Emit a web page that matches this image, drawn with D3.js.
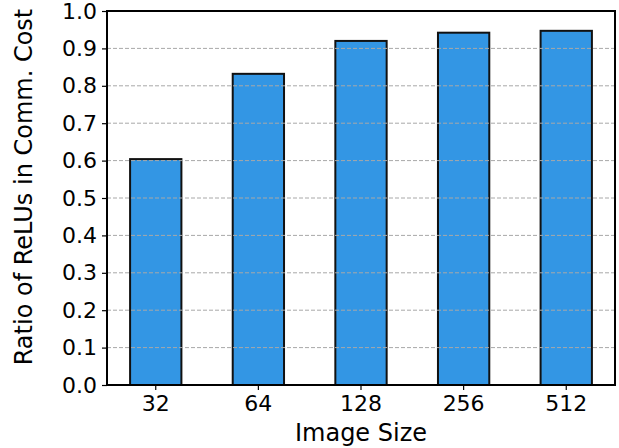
<!DOCTYPE html>
<meta charset="utf-8">
<style>
body { margin: 0; background: #fff; }
svg { font-family: "DejaVu Sans", sans-serif; }
.axis .domain { display: none; }
.axis .tick line { stroke: #000; stroke-width: 1.2px; }
.grid line { stroke: #a8a8a8; stroke-width: 1px; stroke-dasharray: 4,2; }
.bar { fill: #3396e4; stroke: #111; stroke-width: 2px; }
.label { font-size: 24px; fill: #000; }
</style>
<body>
<script src="https://cdn.jsdelivr.net/npm/d3@7"></script>
<script>

var sizes = ["32", "64", "128", "256", "512"];
var ratios = [0.604, 0.832, 0.920, 0.942, 0.947];
var yTicks = [0, 0.1, 0.2, 0.3, 0.4, 0.5, 0.6, 0.7, 0.8, 0.9, 1.0];

var margin = {top: 11, right: 4, bottom: 63, left: 107},
    width = 619 - margin.left - margin.right,
    height = 448 - margin.top - margin.bottom;

var svg = d3.select("body").append("svg")
    .attr("width", 619)
    .attr("height", 448)
  .append("g")
    .attr("transform", "translate(" + margin.left + "," + margin.top + ")");

var x = d3.scaleBand()
    .domain(sizes)
    .range([0, width])
    .paddingInner(0.5)
    .paddingOuter(0.225);

var y = d3.scaleLinear()
    .domain([0, 1])
    .range([height, 0]);

svg.selectAll(".bar")
    .data(ratios)
  .enter().append("rect")
    .attr("class", "bar")
    .attr("x", function(d, i) { return x(sizes[i]); })
    .attr("width", x.bandwidth())
    .attr("y", function(d) { return y(d); })
    .attr("height", function(d) { return height - y(d); });

// grid sits on top of the bars, like the original
svg.append("g")
    .attr("class", "grid")
  .selectAll("line")
    .data(yTicks.slice(1, -1))
  .enter().append("line")
    .attr("x1", 0)
    .attr("x2", width)
    .attr("y1", function(d) { return y(d); })
    .attr("y2", function(d) { return y(d); });

var xAxis = svg.append("g")
    .attr("class", "axis")
    .attr("transform", "translate(0," + height + ")")
    .call(d3.axisBottom(x).tickSize(5).tickPadding(5));

var yAxis = svg.append("g")
    .attr("class", "axis")
    .call(d3.axisLeft(y).tickValues(yTicks).tickFormat(d3.format(".1f")).tickSize(5).tickPadding(5));

[xAxis, yAxis].forEach(function(g) {
  g.attr("font-size", 22).attr("font-family", "DejaVu Sans, sans-serif");
  g.selectAll("text").style("fill", "#000");
});

svg.append("rect")
    .attr("width", width)
    .attr("height", height)
    .attr("fill", "none")
    .attr("stroke", "#000")
    .attr("stroke-width", 2);

svg.append("text")
    .attr("class", "label")
    .attr("text-anchor", "middle")
    .attr("x", width / 2)
    .attr("y", height + 56)
    .text("Image Size");

svg.append("text")
    .attr("class", "label")
    .attr("text-anchor", "middle")
    .attr("transform", "translate(" + (32 - margin.left) + "," + (187 - margin.top) + ") rotate(-90)")
    .text("Ratio of ReLUs in Comm. Cost");

</script>
